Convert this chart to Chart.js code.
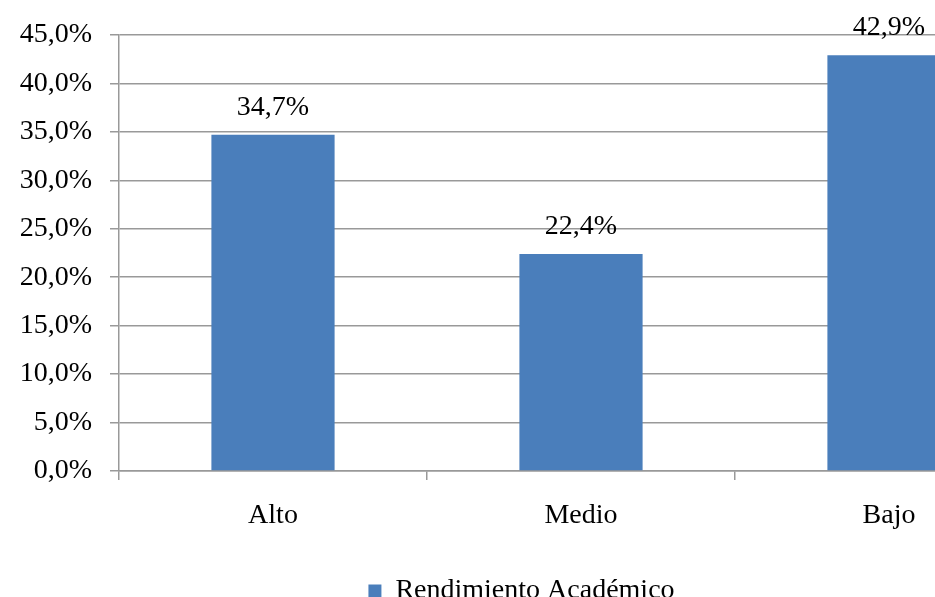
<!DOCTYPE html>
<html>
<head>
<meta charset="utf-8">
<script src="https://cdn.jsdelivr.net/npm/chart.js@4"></script>
<style>
  html, body { margin: 0; padding: 0; background: #fff; overflow: hidden; }
  #wrap { width: 1066px; height: 615px; }
</style>
</head>
<body>
<div id="wrap"><canvas id="rendChart" width="1066" height="615"></canvas></div>
<script>
// Rendimiento académico por nivel
const categories = ['Alto', 'Medio', 'Bajo'];
const values = [34.7, 22.4, 42.9];
const seriesName = 'Rendimiento Académico';
const yMax = 45;
const yStep = 5;

const serif = 'Liberation Serif, Times New Roman, serif';
const fmt = v => v.toFixed(1).replace('.', ',') + '%';

// value labels above each bar
const barLabels = {
    id: 'barLabels',
    afterDatasetsDraw(chart) {
        const ctx = chart.ctx;
        const meta = chart.getDatasetMeta(0);
        ctx.save();
        ctx.font = '28px ' + serif;
        ctx.fillStyle = '#000';
        ctx.textAlign = 'center';
        ctx.textBaseline = 'alphabetic';
        meta.data.forEach((bar, i) => {
            ctx.fillText(fmt(values[i]), bar.x, bar.y - 20);
        });
        ctx.restore();
    }
};

var ctx = document.getElementById('rendChart').getContext('2d');
var rendChart = new Chart(ctx, {
    type: 'bar',
    data: {
        labels: categories,
        datasets: [{
            label: seriesName,
            data: values,
            backgroundColor: '#4a7ebb',
            borderWidth: 0,
            barPercentage: 0.4,
            categoryPercentage: 1.0
        }]
    },
    options: {
        responsive: false,
        animation: false,
        layout: { padding: { top: 35, right: 23, left: 0, bottom: 0 } },
        plugins: {
            tooltip: { enabled: false },
            legend: {
                position: 'bottom',
                labels: {
                    boxWidth: 13,
                    boxHeight: 13,
                    color: '#000',
                    padding: 6,
                    font: { family: serif, size: 28 }
                }
            }
        },
        scales: {
            y: {
                min: 0,
                max: yMax,
                afterFit(scale) { scale.width = 119; },
                ticks: {
                    stepSize: yStep,
                    color: '#000',
                    padding: 18,
                    font: { family: serif, size: 28 },
                    callback: v => fmt(v)
                },
                grid: { color: '#999', lineWidth: 1.5, tickLength: 9 },
                border: { color: '#999', width: 1.5 }
            },
            x: {
                afterFit(scale) { scale.height = 100; },
                ticks: {
                    color: '#000',
                    padding: 19,
                    font: { family: serif, size: 28 }
                },
                grid: {
                    offset: true,
                    drawOnChartArea: false,
                    color: '#999',
                    lineWidth: 1.5,
                    tickLength: 9
                },
                border: { color: '#999', width: 1.5 }
            }
        }
    },
    plugins: [barLabels]
});
</script>
</body>
</html>
